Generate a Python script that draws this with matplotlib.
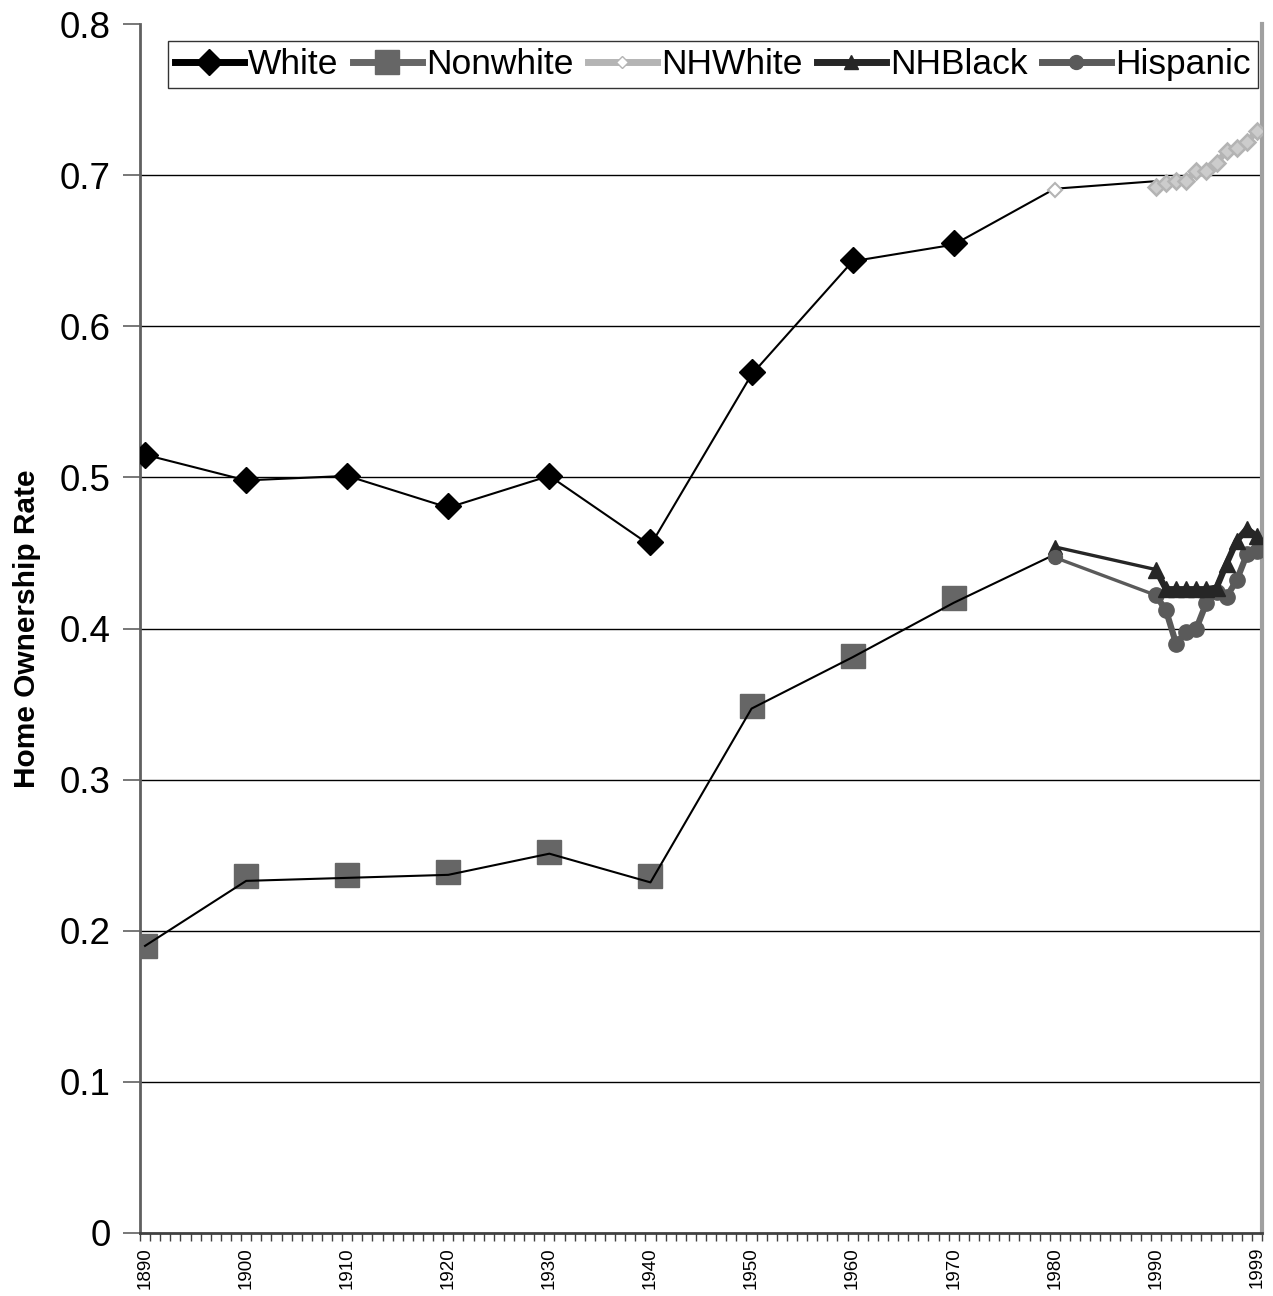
import numpy as np
import matplotlib
matplotlib.use("Agg")
import matplotlib.pyplot as plt
from matplotlib.lines import Line2D

plt.rcParams['font.family'] = ['Liberation Sans', 'DejaVu Sans']

# ---- data (category positions: one category per year, 1890 = 0) ----
decade_labels = ['1890', '1900', '1910', '1920', '1930', '1940', '1950', '1960', '1970', '1980', '1990']
white_pts = [0.515, 0.498, 0.501, 0.481, 0.501, 0.457, 0.570, 0.644, 0.655]          # 1890-1970
nonwhite_pts = [0.190, 0.236, 0.237, 0.239, 0.252, 0.236, 0.349, 0.382, 0.420]       # 1890-1970
white_line = [0.515, 0.498, 0.501, 0.480, 0.501, 0.455, 0.568, 0.643, 0.654, 0.691, 0.696]  # 1890-1990
nonwhite_line = [0.190, 0.233, 0.235, 0.237, 0.251, 0.232, 0.347, 0.381, 0.417, 0.449]      # 1890-1980

nhwhite_1980 = 0.690
nhblack_1980 = 0.454
hispanic_1980 = 0.447

late_labels = ['1990', '', '', '', '', '', '', '', '', '', '1999']
nhwhite_90s = [0.692, 0.695, 0.696, 0.696, 0.703, 0.703, 0.708, 0.716, 0.718, 0.722, 0.729]
nhblack_90s = [0.439, 0.426, 0.426, 0.426, 0.426, 0.426, 0.427, 0.443, 0.458, 0.466, 0.461]
hispanic_90s = [0.422, 0.412, 0.390, 0.398, 0.400, 0.417, 0.424, 0.421, 0.432, 0.449, 0.451]

series_names = ['White', 'Nonwhite', 'NHWhite', 'NHBlack', 'Hispanic']
yticks = [0, 0.1, 0.2, 0.3, 0.4, 0.5, 0.6, 0.7, 0.8]

# ---- positions ----
x_dec = np.arange(len(decade_labels)) * 10
x_late = x_dec[-1] + np.arange(len(late_labels))
n_cat = int(x_late[-1]) + 1

c_white = '#000000'
c_nonwhite = '#666666'
c_nhwhite = '#b4b4b4'
c_nhblack = '#262626'
c_hisp = '#5a5a5a'

fig = plt.figure(figsize=(12.73, 12.96), dpi=100)
ax = fig.add_axes([140/1273, 1 - 1233/1296, 1122/1273, 1209/1296])

# gridlines
for yv in yticks[1:-1]:
    ax.axhline(yv, color='black', lw=1.0, zorder=1)

# White / Nonwhite markers
ax.plot(x_dec[:len(white_pts)], white_pts, ls='none', marker='D', ms=13, color=c_white, zorder=3)
ax.plot(x_dec[:len(nonwhite_pts)], nonwhite_pts, ls='none', marker='s', ms=17, color=c_nonwhite, zorder=3)

# thin connecting lines
ax.plot(x_dec[:len(white_line)], white_line, color='black', lw=1.5, zorder=4)
ax.plot(x_dec[:len(nonwhite_line)], nonwhite_line, color='black', lw=1.5, zorder=4)

# 1980 -> 1990 links
ax.plot([x_dec[9], x_late[0]], [nhblack_1980, nhblack_90s[0]], color=c_nhblack, lw=2.4, zorder=5)
ax.plot([x_dec[9], x_late[0]], [hispanic_1980, hispanic_90s[0]], color=c_hisp, lw=2.4, zorder=5)
ax.plot([x_dec[9]], [nhblack_1980], marker='^', ms=10, color=c_nhblack, ls='none', zorder=6)
ax.plot([x_dec[9]], [hispanic_1980], marker='o', ms=10, color=c_hisp, ls='none', zorder=6)
ax.plot([x_dec[9]], [nhwhite_1980], marker='D', ms=7.5, mfc='white', mec=c_nhwhite, mew=1.5, ls='none', zorder=6)

# 1990s series
ax.plot(x_late, nhwhite_90s, color=c_nhwhite, lw=4.5, marker='D', ms=8.5, mfc='#cccccc', mec=c_nhwhite, mew=1.8, zorder=6)
ax.plot(x_late, hispanic_90s, color=c_hisp, lw=4.5, marker='o', ms=11, zorder=6)
ax.plot(x_late, nhblack_90s, color=c_nhblack, lw=4.5, marker='^', ms=11, zorder=7)

# axes
ax.set_xlim(-0.5, n_cat - 0.5)
ax.set_ylim(0, 0.8)
ax.set_yticks(yticks)
ax.set_yticklabels(['0' if v == 0 else f'{v:.1f}' for v in yticks], fontsize=26.5)
ax.tick_params(axis='y', length=12, width=1.2, color='#606060', pad=9)

all_pos = list(x_dec) + list(x_late[1:])
all_lab = decade_labels + late_labels[1:]
tick_pos = [p for p, l in zip(all_pos, all_lab) if l]
tick_lab = [l for l in all_lab if l]
ax.set_xticks(tick_pos)
ax.set_xticklabels(tick_lab, rotation=90, fontsize=13.5)
ax.tick_params(axis='x', length=0, pad=10)
ax.set_xticks(np.arange(-0.5, n_cat, 1.0), minor=True)
ax.tick_params(axis='x', which='minor', length=6, width=1.0, color='#404040')

ax.spines['top'].set_visible(False)
ax.spines['left'].set_color('#606060')
ax.spines['left'].set_linewidth(2)
ax.spines['right'].set_color('#a0a0a0')
ax.spines['right'].set_linewidth(3)
ax.spines['bottom'].set_color('#404040')
ax.spines['bottom'].set_linewidth(2)

ax.set_ylabel('Home Ownership Rate', fontsize=21.5, fontweight='bold')
ax.yaxis.set_label_coords(-0.088, 0.5)

handles = [
    Line2D([], [], color=c_white, lw=5, marker='D', ms=13),
    Line2D([], [], color=c_nonwhite, lw=5, marker='s', ms=17),
    Line2D([], [], color=c_nhwhite, lw=5, marker='D', ms=6, mfc='white', mec=c_nhwhite),
    Line2D([], [], color=c_nhblack, lw=5, marker='^', ms=10),
    Line2D([], [], color=c_hisp, lw=5, marker='o', ms=10),
]
leg = ax.legend(handles, series_names, loc='upper right', bbox_to_anchor=(0.9964, 0.986),
                ncol=5, fontsize=25.5, frameon=True, fancybox=False, borderaxespad=0,
                handlelength=1.95, handletextpad=0.12, columnspacing=0.4,
                borderpad=0.2)
leg.get_frame().set_edgecolor('black')
leg.get_frame().set_linewidth(1.0)

fig.savefig('out.png', dpi=100, facecolor='white')
